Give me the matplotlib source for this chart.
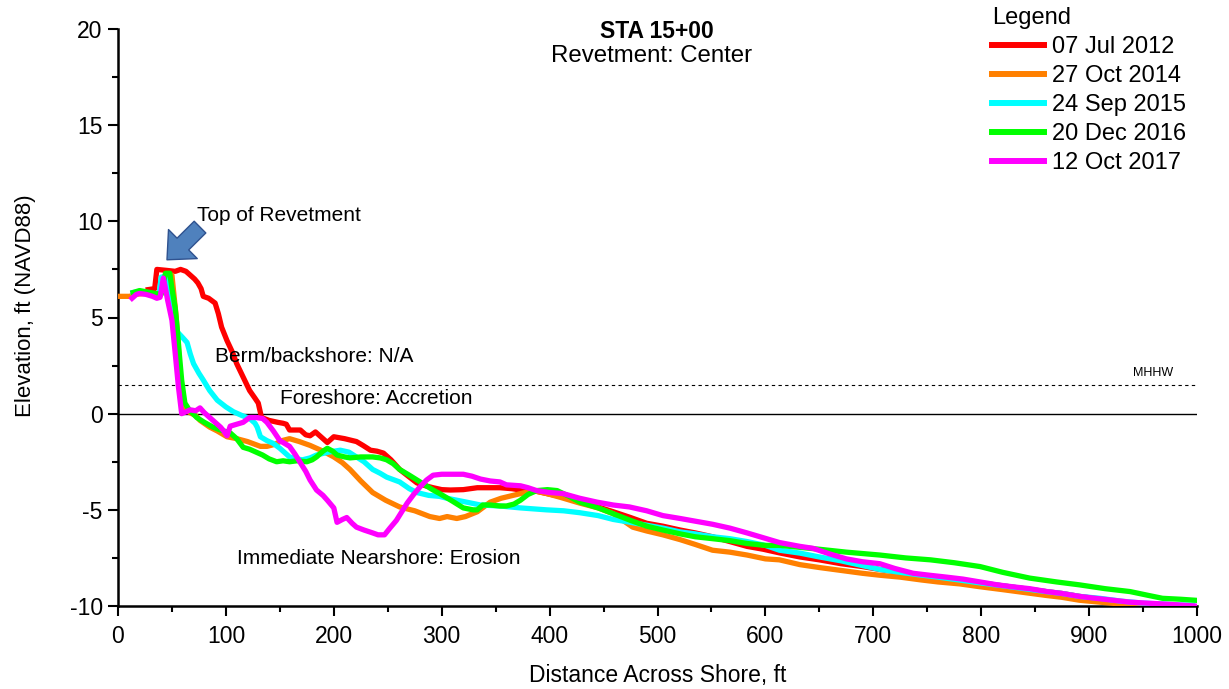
import matplotlib
matplotlib.use("Agg")
import matplotlib.pyplot as plt
from matplotlib.patches import FancyArrowPatch
from matplotlib.ticker import MultipleLocator

plt.rcParams['font.family'] = ['Liberation Sans', 'DejaVu Sans']
plt.rcParams['axes.unicode_minus'] = False

# ---- survey profiles: distance across shore (ft) vs elevation (ft NAVD88) ----
labels = ["07 Jul 2012", "27 Oct 2014", "24 Sep 2015", "20 Dec 2016", "12 Oct 2017"]
colors = ["#ff0000", "#ff8000", "#00ffff", "#00ff00", "#ff00ff"]

x_2012 = [28, 34, 36, 45, 53, 58, 63, 67, 71, 74, 77, 79, 84, 90, 93, 96, 101, 106, 110, 116,
          122, 127, 130, 133, 140, 148, 153, 156, 159, 165, 169, 174, 178, 183, 188, 194, 200,
          210, 221, 227, 234, 240, 246, 253, 261, 269, 277, 285, 292, 300, 308, 320, 333, 345,
          354, 365, 373, 385, 397, 410, 428, 445, 459, 475, 490, 505, 521, 535, 551, 567, 583,
          598, 614, 632, 650, 670, 690, 706, 725, 745, 760, 780, 799, 820, 840, 860, 875, 891,
          910, 925, 938, 950, 960, 1000]
y_2012 = [6.45, 6.5, 7.5, 7.45, 7.4, 7.5, 7.4, 7.2, 7.0, 6.8, 6.5, 6.1, 6.0, 5.75, 5.2, 4.5, 3.8,
          3.2, 2.6, 1.9, 1.2, 0.8, 0.55, -0.2, -0.35, -0.45, -0.5, -0.55, -0.85, -0.85, -0.85,
          -1.1, -1.15, -0.95, -1.2, -1.5, -1.2, -1.3, -1.45, -1.65, -1.9, -1.95, -2.05, -2.4,
          -2.9, -3.25, -3.6, -3.75, -3.85, -3.95, -3.97, -3.95, -3.85, -3.85, -3.85, -3.9, -3.97,
          -4.0, -4.15, -4.3, -4.6, -4.85, -5.1, -5.4, -5.7, -5.85, -6.05, -6.2, -6.4, -6.65, -6.9,
          -7.05, -7.25, -7.45, -7.6, -7.8, -7.95, -8.1, -8.25, -8.4, -8.5, -8.65, -8.8, -8.95,
          -9.1, -9.25, -9.35, -9.5, -9.65, -9.8, -9.95, -10.05, -10.15, -10.5]

x_2014 = [0, 5, 11, 15, 25, 35, 40, 44, 50, 54, 57, 60, 65, 72, 76, 85, 92, 101, 110, 120, 132,
          138, 145, 152, 159, 168, 178, 190, 200, 208, 215, 225, 236, 248, 261, 275, 289, 298,
          305, 314, 322, 333, 345, 355, 366, 385, 397, 410, 428, 445, 459, 468, 477, 490, 505,
          521, 535, 551, 567, 583, 600, 613, 632, 650, 670, 690, 706, 725, 745, 760, 780, 799,
          820, 840, 860, 875, 891, 910, 930, 950, 968, 985, 1000]
y_2014 = [6.1, 6.1, 6.1, 6.2, 6.25, 6.15, 6.3, 7.2, 7.2, 5.0, 2.5, 0.3, 0.1, -0.1, -0.35, -0.7,
          -0.9, -1.2, -1.3, -1.45, -1.7, -1.7, -1.6, -1.4, -1.3, -1.45, -1.65, -1.95, -2.25,
          -2.55, -2.9, -3.5, -4.1, -4.5, -4.85, -5.05, -5.35, -5.45, -5.35, -5.45, -5.35, -5.1,
          -4.6, -4.4, -4.25, -4.0, -4.15, -4.35, -4.65, -4.9, -5.2, -5.55, -5.9, -6.1, -6.3,
          -6.55, -6.8, -7.1, -7.2, -7.35, -7.55, -7.6, -7.85, -8.0, -8.15, -8.3, -8.4, -8.5,
          -8.65, -8.75, -8.85, -9.0, -9.15, -9.3, -9.45, -9.55, -9.7, -9.8, -9.9, -9.95, -10.05,
          -10.1, -10.2]

x_2015 = [14, 20, 30, 38, 40, 45, 50, 53, 55, 60, 64, 67, 70, 75, 79, 85, 92, 100, 107, 115, 122,
          127, 129, 132, 138, 144, 150, 159, 165, 171, 178, 184, 195, 206, 214, 221, 228, 236,
          243, 249, 261, 270, 277, 288, 298, 305, 314, 323, 336, 354, 373, 397, 413, 428, 445,
          459, 475, 490, 505, 521, 535, 551, 567, 583, 600, 613, 632, 650, 670, 690, 706, 725,
          745, 760, 780, 799, 820, 840, 860, 875, 891, 910, 930, 950, 970, 985, 996]
y_2015 = [6.3, 6.35, 6.25, 6.15, 7.1, 7.15, 6.0, 4.6, 4.25, 3.95, 3.7, 3.1, 2.6, 2.1, 1.75, 1.2,
          0.7, 0.35, 0.1, -0.1, -0.25, -0.5, -0.7, -1.2, -1.4, -1.55, -1.8, -2.25, -2.35, -2.4,
          -2.3, -2.15, -2.0, -1.9, -2.0, -2.25, -2.5, -2.9, -3.1, -3.3, -3.55, -3.9, -4.1, -4.25,
          -4.3, -4.4, -4.5, -4.6, -4.75, -4.8, -4.9, -5.0, -5.05, -5.15, -5.3, -5.5, -5.65, -5.8,
          -5.95, -6.15, -6.25, -6.4, -6.5, -6.65, -6.85, -7.1, -7.25, -7.45, -7.65, -7.9, -8.1,
          -8.25, -8.4, -8.5, -8.65, -8.8, -8.95, -9.1, -9.25, -9.35, -9.5, -9.6, -9.75, -9.85,
          -9.9, -9.95, -9.95]

x_2016 = [14, 20, 30, 40, 44, 48, 50, 53, 55, 57, 59, 62, 66, 73, 80, 88, 95, 104, 110, 116, 122,
          128, 134, 140, 147, 153, 159, 166, 175, 180, 184, 190, 194, 199, 203, 210, 215, 225,
          236, 243, 249, 255, 261, 270, 280, 292, 298, 310, 320, 329, 333, 338, 345, 354, 360,
          367, 373, 380, 388, 398, 407, 418, 428, 445, 459, 475, 490, 505, 521, 535, 551, 567,
          583, 600, 613, 632, 650, 675, 706, 730, 753, 775, 799, 820, 845, 870, 891, 915, 938,
          955, 968, 985, 998]
y_2016 = [6.3, 6.4, 6.3, 6.2, 7.3, 7.3, 6.5, 5.5, 4.35, 3.0, 1.75, 0.55, 0.2, -0.2, -0.45, -0.7,
          -0.85, -1.0, -1.3, -1.75, -1.85, -2.0, -2.15, -2.35, -2.5, -2.45, -2.5, -2.45, -2.5,
          -2.4, -2.25, -1.95, -1.8, -1.95, -2.15, -2.25, -2.3, -2.25, -2.25, -2.3, -2.4, -2.6,
          -2.9, -3.2, -3.55, -3.97, -4.15, -4.55, -4.9, -5.0, -5.0, -4.75, -4.75, -4.8, -4.8,
          -4.7, -4.5, -4.2, -4.0, -3.95, -4.0, -4.3, -4.6, -4.9, -5.2, -5.55, -5.85, -6.05,
          -6.25, -6.4, -6.5, -6.6, -6.75, -6.85, -6.85, -6.95, -7.05, -7.2, -7.35, -7.5, -7.6,
          -7.75, -7.95, -8.25, -8.55, -8.75, -8.9, -9.1, -9.25, -9.45, -9.6, -9.65, -9.7]

x_2017 = [13, 17, 20, 26, 32, 36, 39, 42, 44, 46, 50, 53, 56, 59, 63, 67, 72, 76, 80, 85, 90, 95,
          98, 101, 104, 110, 116, 122, 128, 134, 138, 144, 150, 159, 164, 169, 174, 178, 184,
          190, 194, 200, 203, 208, 212, 217, 221, 228, 236, 241, 247, 252, 258, 263, 268, 274,
          280, 286, 292, 300, 310, 320, 328, 336, 345, 354, 360, 373, 380, 388, 400, 412, 428,
          444, 459, 474, 490, 505, 521, 536, 551, 567, 583, 598, 613, 632, 644, 660, 675, 690,
          706, 720, 737, 752, 768, 783, 799, 815, 829, 845, 861, 875, 891, 906, 922, 938, 953,
          970, 985, 998]
y_2017 = [6.0, 6.2, 6.25, 6.2, 6.1, 6.0, 6.05, 7.05, 6.5, 5.9, 4.85, 3.15, 1.4, 0.0, 0.1, 0.2,
          0.15, 0.3, 0.05, -0.2, -0.45, -0.7, -0.9, -1.15, -0.65, -0.55, -0.45, -0.2, -0.2,
          -0.25, -0.45, -0.9, -1.4, -1.7, -2.1, -2.55, -3.0, -3.45, -3.97, -4.25, -4.5, -4.9,
          -5.65, -5.5, -5.4, -5.7, -5.9, -6.05, -6.2, -6.3, -6.3, -5.95, -5.55, -5.1, -4.65,
          -4.2, -3.8, -3.45, -3.2, -3.15, -3.15, -3.15, -3.25, -3.4, -3.5, -3.55, -3.7, -3.75,
          -3.85, -4.0, -4.1, -4.15, -4.4, -4.6, -4.75, -4.85, -5.05, -5.3, -5.45, -5.6, -5.75,
          -5.95, -6.2, -6.45, -6.7, -6.9, -7.0, -7.3, -7.55, -7.7, -7.8, -8.05, -8.3, -8.4, -8.5,
          -8.6, -8.75, -8.9, -9.0, -9.1, -9.25, -9.35, -9.5, -9.6, -9.7, -9.8, -9.85, -9.9,
          -9.95, -10.0]

profiles = [(x_2012, y_2012), (x_2014, y_2014), (x_2015, y_2015), (x_2016, y_2016), (x_2017, y_2017)]

mhhw = 1.5

fig = plt.figure(figsize=(12.29, 6.89), dpi=100)
ax = fig.add_axes([118 / 1229, 1 - 606 / 689, (1197 - 118) / 1229, (606 - 29) / 689])

# reference lines
ax.axhline(0, color="black", lw=1.0, zorder=1)
ax.axhline(mhhw, color="black", lw=0.8, ls=(0, (3, 3)), zorder=1)
ax.text(978, mhhw + 0.3, "MHHW", fontsize=9, ha="right", va="bottom")

for (xs, ys), c, lab in zip(profiles, colors, labels):
    ax.plot(xs, ys, color=c, lw=3.8, label=lab, solid_joinstyle="round", zorder=3)

ax.set_xlim(0, 1000)
ax.set_ylim(-10, 20)
ax.xaxis.set_major_locator(MultipleLocator(100))
ax.xaxis.set_minor_locator(MultipleLocator(50))
ax.yaxis.set_major_locator(MultipleLocator(5))
ax.yaxis.set_minor_locator(MultipleLocator(2.5))
ax.tick_params(which="major", direction="out", length=7, width=1.5, labelsize=16.5)
ax.tick_params(which="minor", direction="out", length=4, width=1.5)
ax.tick_params(axis="x", which="major", pad=7)
ax.tick_params(axis="y", which="major", pad=4)
for side in ("top", "right"):
    ax.spines[side].set_visible(False)
for side in ("left", "bottom"):
    ax.spines[side].set_linewidth(1.8)

ax.set_xlabel("Distance Across Shore, ft", fontsize=16.5, labelpad=11)
ax.set_ylabel("Elevation, ft (NAVD88)", fontsize=16)
ax.yaxis.set_label_coords(-0.076, 0.52)

# annotations
ax.text(73, 10.3, "Top of Revetment", fontsize=15, ha="left", va="center")
ax.text(90, 2.95, "Berm/backshore: N/A", fontsize=15, ha="left", va="center")
ax.text(150, 0.8, "Foreshore: Accretion", fontsize=15, ha="left", va="center")
ax.text(110, -7.55, "Immediate Nearshore: Erosion", fontsize=15, ha="left", va="center")

arrow = FancyArrowPatch((76, 9.7), (45.4, 8.0),
                        arrowstyle="simple,head_length=1.15,head_width=2.1,tail_width=0.85",
                        mutation_scale=14, shrinkA=0, shrinkB=0,
                        fc="#4f81bd", ec="#2f528f", lw=1.0, zorder=5)
ax.add_patch(arrow)

fig.text(657 / 1229, 1 - 32 / 689, "STA 15+00", fontsize=16.5, fontweight="bold",
         ha="center", va="center")
fig.text(652 / 1229, 1 - 56 / 689, "Revetment: Center", fontsize=17.3, ha="center", va="center")

leg = ax.legend(loc="upper left", bbox_to_anchor=(992 / 1229, 1 - 7 / 689),
                bbox_transform=fig.transFigure, frameon=False, title="Legend",
                fontsize=17, title_fontsize=17, handlelength=2.2, handletextpad=0.35,
                labelspacing=0.3, borderpad=0, borderaxespad=0, alignment="left")
for line in leg.get_lines():
    line.set_linewidth(4.3)

fig.savefig("out.png", dpi=100)
